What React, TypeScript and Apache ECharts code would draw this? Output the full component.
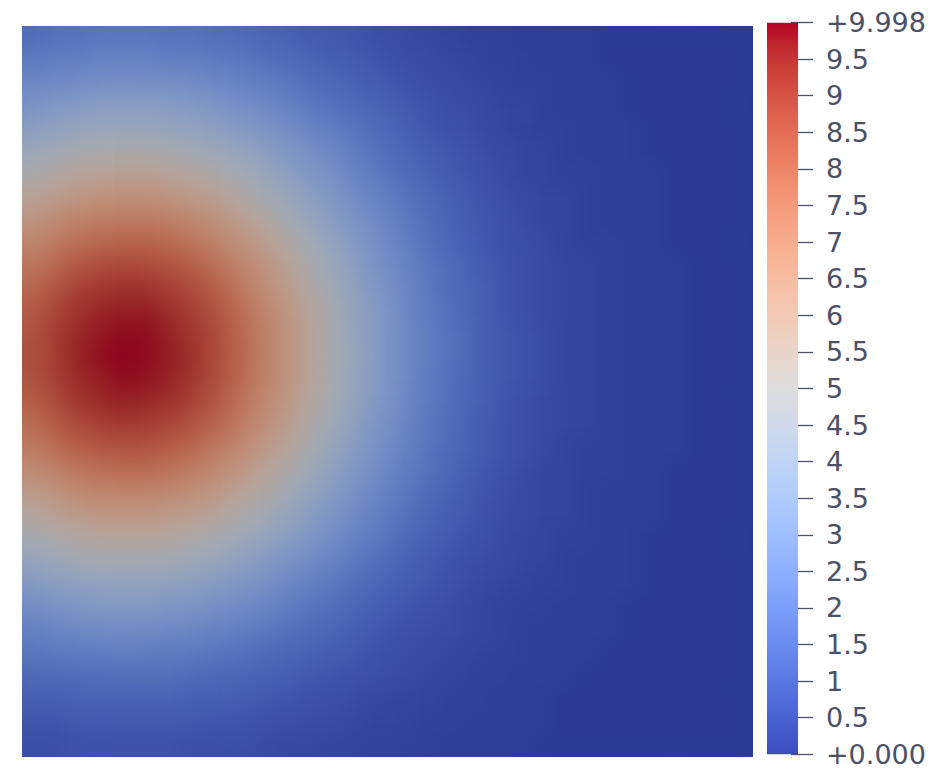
import React, { useEffect, useRef } from "react";
import * as echarts from "echarts";

// Scalar field sampled on a 32 x 32 grid (rows from top to bottom, columns from left to right)
const fieldRows: number[][] = [
  [1.5,1.7,1.7,1.8,1.8,1.8,1.7,1.7,1.6,1.5,1.3,1.2,1.0,0.9,0.8,0.6,0.5,0.4,0.3,0.2,0.2,0.1,0.1,0.1,0.1,0,0,0,0,0,0,0],
  [2.0,2.1,2.2,2.3,2.3,2.3,2.2,2.1,2.0,1.9,1.7,1.5,1.3,1.1,1.0,0.8,0.6,0.5,0.4,0.3,0.2,0.2,0.1,0.1,0.1,0,0,0,0,0,0,0],
  [2.5,2.6,2.7,2.8,2.9,2.8,2.8,2.7,2.5,2.3,2.1,1.9,1.6,1.4,1.2,1.0,0.8,0.6,0.5,0.4,0.3,0.2,0.2,0.1,0.1,0.1,0,0,0,0,0,0],
  [3.0,3.2,3.4,3.5,3.5,3.5,3.4,3.3,3.1,2.8,2.6,2.3,2.0,1.7,1.5,1.2,1.0,0.8,0.6,0.5,0.4,0.3,0.2,0.1,0.1,0.1,0,0,0,0,0,0],
  [3.6,3.9,4.1,4.2,4.2,4.2,4.1,3.9,3.7,3.4,3.1,2.8,2.4,2.1,1.8,1.5,1.2,0.9,0.7,0.6,0.4,0.3,0.2,0.2,0.1,0.1,0.1,0,0,0,0,0],
  [4.3,4.6,4.8,4.9,5.0,5.0,4.8,4.6,4.4,4.0,3.7,3.3,2.9,2.5,2.1,1.7,1.4,1.1,0.9,0.7,0.5,0.4,0.3,0.2,0.1,0.1,0.1,0,0,0,0,0],
  [5.0,5.3,5.6,5.7,5.8,5.8,5.6,5.4,5.1,4.7,4.3,3.8,3.3,2.9,2.4,2.0,1.6,1.3,1.0,0.8,0.6,0.4,0.3,0.2,0.2,0.1,0.1,0.1,0,0,0,0],
  [5.7,6.0,6.3,6.5,6.6,6.6,6.4,6.1,5.8,5.3,4.8,4.3,3.8,3.3,2.7,2.3,1.9,1.5,1.2,0.9,0.7,0.5,0.4,0.3,0.2,0.1,0.1,0.1,0,0,0,0],
  [6.3,6.8,7.1,7.3,7.4,7.4,7.2,6.9,6.5,6.0,5.4,4.8,4.2,3.6,3.1,2.6,2.1,1.7,1.3,1.0,0.8,0.6,0.4,0.3,0.2,0.1,0.1,0.1,0,0,0,0],
  [7.0,7.4,7.8,8.0,8.1,8.1,7.9,7.6,7.1,6.6,6.0,5.3,4.7,4.0,3.4,2.8,2.3,1.8,1.4,1.1,0.8,0.6,0.5,0.3,0.2,0.2,0.1,0.1,0,0,0,0],
  [7.5,8.0,8.4,8.7,8.8,8.7,8.5,8.2,7.7,7.1,6.5,5.8,5.0,4.3,3.7,3.0,2.5,2.0,1.6,1.2,0.9,0.7,0.5,0.4,0.3,0.2,0.1,0.1,0.1,0,0,0],
  [8.0,8.5,9.0,9.2,9.3,9.3,9.0,8.7,8.2,7.5,6.8,6.1,5.3,4.6,3.9,3.2,2.6,2.1,1.6,1.3,1.0,0.7,0.5,0.4,0.3,0.2,0.1,0.1,0.1,0,0,0],
  [8.3,8.9,9.3,9.6,9.7,9.7,9.4,9.0,8.5,7.9,7.1,6.4,5.6,4.8,4.0,3.4,2.7,2.2,1.7,1.3,1.0,0.7,0.5,0.4,0.3,0.2,0.1,0.1,0.1,0,0,0],
  [8.5,9.1,9.5,9.8,9.9,9.9,9.6,9.2,8.7,8.0,7.3,6.5,5.7,4.9,4.1,3.4,2.8,2.2,1.8,1.4,1.0,0.8,0.6,0.4,0.3,0.2,0.1,0.1,0.1,0,0,0],
  [8.6,9.1,9.6,9.9,9.99,9.9,9.7,9.3,8.7,8.1,7.3,6.5,5.7,4.9,4.2,3.4,2.8,2.2,1.8,1.4,1.0,0.8,0.6,0.4,0.3,0.2,0.1,0.1,0.1,0,0,0],
  [8.5,9.0,9.5,9.7,9.9,9.8,9.6,9.2,8.6,8.0,7.2,6.5,5.6,4.9,4.1,3.4,2.8,2.2,1.7,1.3,1.0,0.8,0.6,0.4,0.3,0.2,0.1,0.1,0.1,0,0,0],
  [8.2,8.7,9.2,9.5,9.6,9.5,9.3,8.9,8.4,7.7,7.0,6.3,5.5,4.7,4.0,3.3,2.7,2.1,1.7,1.3,1.0,0.7,0.5,0.4,0.3,0.2,0.1,0.1,0.1,0,0,0],
  [7.8,8.3,8.7,9.0,9.1,9.0,8.8,8.5,8.0,7.4,6.7,6.0,5.2,4.5,3.8,3.1,2.6,2.0,1.6,1.2,0.9,0.7,0.5,0.4,0.3,0.2,0.1,0.1,0.1,0,0,0],
  [7.3,7.8,8.2,8.4,8.5,8.5,8.2,7.9,7.4,6.9,6.2,5.6,4.9,4.2,3.5,2.9,2.4,1.9,1.5,1.2,0.9,0.7,0.5,0.3,0.2,0.2,0.1,0.1,0.1,0,0,0],
  [6.7,7.1,7.5,7.7,7.8,7.8,7.6,7.3,6.8,6.3,5.7,5.1,4.5,3.8,3.3,2.7,2.2,1.8,1.4,1.1,0.8,0.6,0.4,0.3,0.2,0.2,0.1,0.1,0,0,0,0],
  [6.0,6.4,6.8,7.0,7.0,7.0,6.8,6.5,6.2,5.7,5.2,4.6,4.0,3.5,2.9,2.4,2.0,1.6,1.2,1.0,0.7,0.5,0.4,0.3,0.2,0.1,0.1,0.1,0,0,0,0],
  [5.3,5.7,6.0,6.2,6.2,6.2,6.0,5.8,5.5,5.0,4.6,4.1,3.6,3.1,2.6,2.2,1.8,1.4,1.1,0.9,0.6,0.5,0.4,0.3,0.2,0.1,0.1,0.1,0,0,0,0],
  [4.7,5.0,5.2,5.4,5.4,5.4,5.3,5.0,4.7,4.4,4.0,3.6,3.1,2.7,2.3,1.9,1.5,1.2,1.0,0.7,0.6,0.4,0.3,0.2,0.2,0.1,0.1,0,0,0,0,0],
  [4.0,4.2,4.5,4.6,4.6,4.6,4.5,4.3,4.1,3.7,3.4,3.0,2.7,2.3,1.9,1.6,1.3,1.0,0.8,0.6,0.5,0.4,0.3,0.2,0.1,0.1,0.1,0,0,0,0,0],
  [3.3,3.6,3.7,3.8,3.9,3.9,3.8,3.6,3.4,3.1,2.9,2.5,2.2,1.9,1.6,1.3,1.1,0.9,0.7,0.5,0.4,0.3,0.2,0.2,0.1,0.1,0.1,0,0,0,0,0],
  [2.7,2.9,3.1,3.2,3.2,3.2,3.1,3.0,2.8,2.6,2.4,2.1,1.8,1.6,1.3,1.1,0.9,0.7,0.6,0.4,0.3,0.2,0.2,0.1,0.1,0.1,0,0,0,0,0,0],
  [2.2,2.4,2.5,2.6,2.6,2.6,2.5,2.4,2.3,2.1,1.9,1.7,1.5,1.3,1.1,0.9,0.7,0.6,0.5,0.4,0.3,0.2,0.1,0.1,0.1,0.1,0,0,0,0,0,0],
  [1.8,1.9,2.0,2.0,2.1,2.0,2.0,1.9,1.8,1.7,1.5,1.3,1.2,1.0,0.9,0.7,0.6,0.5,0.4,0.3,0.2,0.2,0.1,0.1,0.1,0,0,0,0,0,0,0],
  [1.4,1.5,1.5,1.6,1.6,1.6,1.6,1.5,1.4,1.3,1.2,1.1,0.9,0.8,0.7,0.6,0.5,0.4,0.3,0.2,0.2,0.1,0.1,0.1,0,0,0,0,0,0,0,0],
  [1.1,1.1,1.2,1.2,1.2,1.2,1.2,1.1,1.1,1.0,0.9,0.8,0.7,0.6,0.5,0.4,0.3,0.3,0.2,0.2,0.1,0.1,0.1,0,0,0,0,0,0,0,0,0],
  [0.8,0.8,0.9,0.9,0.9,0.9,0.9,0.9,0.8,0.8,0.7,0.6,0.5,0.5,0.4,0.3,0.3,0.2,0.2,0.1,0.1,0.1,0.1,0,0,0,0,0,0,0,0,0],
  [0.6,0.6,0.7,0.7,0.7,0.7,0.7,0.6,0.6,0.6,0.5,0.4,0.4,0.3,0.3,0.2,0.2,0.2,0.1,0.1,0.1,0.1,0,0,0,0,0,0,0,0,0,0],
];

const rangeMin = 0;
const rangeMax = 9.998;

const colorbarTicks = [0, 0.5, 1, 1.5, 2, 2.5, 3, 3.5, 4, 4.5, 5, 5.5, 6, 6.5, 7, 7.5, 8, 8.5, 9, 9.5, 9.998];
const colorbarLabels = ["+0.000", "0.5", "1", "1.5", "2", "2.5", "3", "3.5", "4", "4.5", "5", "5.5", "6", "6.5", "7", "7.5", "8", "8.5", "9", "9.5", "+9.998"];

// "Cool to Warm" colour map, from low to high
const coolWarm = [
  "#3b4cc0", "#445acc", "#4d68d7", "#5775e1", "#6282ea", "#6c8ef1", "#779af7", "#82a5fb",
  "#8db0fe", "#98b9ff", "#a3c2ff", "#aec9fd", "#b8d0f9", "#c2d5f4", "#ccd9ee", "#d5dbe6",
  "#dddddd", "#e5d8d1", "#ecd3c5", "#f1ccb8", "#f5c4ac", "#f7bb9f", "#f7b193", "#f7a686",
  "#f49a7b", "#f18d6f", "#ec7f63", "#e57059", "#de604d", "#d55042", "#cb3e38", "#c0282f", "#b40426",
];

const shade = (hex: string, f: number) => {
  const n = parseInt(hex.slice(1), 16);
  const r = Math.round(((n >> 16) & 255) * f);
  const g = Math.round(((n >> 8) & 255) * f);
  const b = Math.round((n & 255) * f);
  return `rgb(${r},${g},${b})`;
};

const TEXT_COLOR = "#4c5066";
const FONT = "'DejaVu Sans', sans-serif";

export default function App() {
  const fieldRef = useRef<HTMLDivElement>(null);
  const barRef = useRef<HTMLDivElement>(null);

  useEffect(() => {
    if (!fieldRef.current || !barRef.current) return;
    const field = echarts.init(fieldRef.current, undefined, { renderer: "svg" });
    const bar = echarts.init(barRef.current, undefined, { renderer: "svg" });

    const cols = fieldRows[0].map((_, i) => String(i));
    const rows = fieldRows.map((_, j) => String(j));
    const cells: [number, number, number][] = [];
    fieldRows.forEach((row, j) => row.forEach((v, i) => cells.push([i, j, v])));

    const litColors = coolWarm.map((c) => shade(c, 0.77));
    const n = coolWarm.length - 1;
    // top of the bar (offset 0) is the high end of the map
    const stops = coolWarm.map((c, k) => ({ offset: (n - k) / n, color: c })).reverse();

    field.setOption({
      animation: false,
      grid: { left: 0, top: 0, right: 0, bottom: 0 },
      xAxis: { type: "category", data: cols, show: false },
      yAxis: { type: "category", data: rows, inverse: true, show: false },
      visualMap: {
        type: "continuous",
        show: false,
        min: rangeMin,
        max: rangeMax,
        dimension: 2,
        seriesIndex: 0,
        inRange: { color: litColors },
      },
      series: [
        {
          type: "heatmap",
          data: cells,
          itemStyle: { borderWidth: 0 },
          emphasis: { disabled: true },
        },
      ],
    });

    bar.setOption({
      animation: false,
      grid: { left: 767, top: 22.7, width: 31, height: 731.6 },
      xAxis: { type: "category", data: ["bar"], show: false },
      yAxis: {
        type: "value",
        min: rangeMin,
        max: rangeMax,
        interval: 0.5,
        position: "right",
        offset: -7,
        splitLine: { show: false },
        axisLine: { show: false },
        axisTick: {
          show: true,
          length: 22,
          lineStyle: { color: TEXT_COLOR, width: 1.3 },
          customValues: colorbarTicks,
        },
        axisLabel: {
          show: true,
          margin: 35,
          color: TEXT_COLOR,
          fontSize: 27,
          lineHeight: 27,
          fontFamily: FONT,
          customValues: colorbarTicks,
          formatter: (v: number) => {
            const k = colorbarTicks.findIndex((t) => Math.abs(t - v) < 1e-6);
            return k >= 0 ? colorbarLabels[k] : "";
          },
        },
      },
      series: [
        {
          type: "bar",
          data: [rangeMax],
          barWidth: "100%",
          itemStyle: {
            color: { type: "linear", x: 0, y: 0, x2: 0, y2: 1, colorStops: stops },
          },
          emphasis: { disabled: true },
        },
      ],
    });

    return () => {
      field.dispose();
      bar.dispose();
    };
  }, []);

  return (
    <div style={{ position: "fixed", left: 0, top: 0, width: 934, height: 772, background: "#fff" }}>
      <svg width="0" height="0" style={{ position: "absolute" }}>
        <defs>
          <filter id="smoothField" x="0" y="0" width="1" height="1" colorInterpolationFilters="sRGB">
            <feGaussianBlur stdDeviation="10" />
            <feComponentTransfer>
              <feFuncA type="table" tableValues="1 1" />
            </feComponentTransfer>
          </filter>
        </defs>
      </svg>
      <div ref={barRef} style={{ position: "absolute", left: 0, top: 0, width: 934, height: 772 }} />
      <div
        ref={fieldRef}
        style={{ position: "absolute", left: 22, top: 26, width: 731, height: 731, filter: "url(#smoothField)" }}
      />
    </div>
  );
}
